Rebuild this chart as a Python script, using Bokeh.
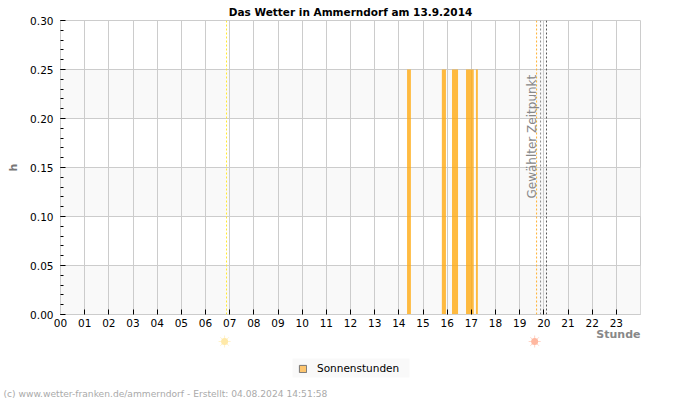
from bokeh.plotting import figure
from bokeh.layouts import column
from bokeh.models import Label, Legend, LegendItem, Span, FixedTicker, PrintfTickFormatter
from bokeh.core.properties import value
from bokeh.embed import file_html
from bokeh.resources import INLINE

title_text = "Das Wetter in Ammerndorf am 13.9.2014"
credit_text = "(c) www.wetter-franken.de/ammerndorf - Erstellt: 04.08.2024 14:51:58"
series_name = "Sonnenstunden"
hours = list(range(24))
hour_labels = {h: f"{h:02d}" for h in hours}
y_major = [0.0, 0.05, 0.10, 0.15, 0.20, 0.25, 0.30]
y_minor = [round(i * 0.01, 2) for i in range(31)]
band_low = [0.0, 0.10, 0.20]
band_high = [0.05, 0.15, 0.25]
bar_start = [14.34, 15.78, 16.2, 16.78, 17.19]
bar_end = [14.5, 15.95, 16.45, 17.1, 17.27]
bar_top = [0.25, 0.25, 0.25, 0.25, 0.25]
sunrise = 6.87
sunset = 19.70
selected_a = 19.865
selected_b = 20.11
sun_icon_x = [6.79, 19.62]
sun_colors = ["#ffe9a8", "#ffb8a0"]

GRID = "#cccccc"
p = figure(width=700, height=329, output_backend="svg", toolbar_location=None,
           x_range=(0, 24), y_range=(0, 0.30), title=title_text, frame_align=False,
           min_border_left=60, min_border_right=60, min_border_top=20, min_border_bottom=14,
           outline_line_color=GRID, outline_line_width=1, background_fill_color="white")
p.title.align = "center"
p.title.text_font = "DejaVu Sans"
p.title.text_font_size = "10.5px"
p.title.text_font_style = "bold"
p.title.text_color = "black"
p.title.standoff = 5
p.title.offset = -1

p.xaxis.ticker = FixedTicker(ticks=hours)
p.xaxis.major_label_overrides = hour_labels
p.yaxis.ticker = FixedTicker(ticks=y_major, minor_ticks=y_minor)
p.yaxis.formatter = PrintfTickFormatter(format="%.2f")
for ax in (p.xaxis[0], p.yaxis[0]):
    ax.axis_line_color = GRID
    ax.major_tick_line_color = "black"
    ax.major_tick_in = 5
    ax.major_tick_out = 0
    ax.major_label_text_font = "DejaVu Sans"
    ax.major_label_text_font_size = "10.5px"
    ax.major_label_text_color = "black"
p.xaxis.minor_tick_line_color = None
p.xaxis.major_label_standoff = 4
p.yaxis.minor_tick_line_color = "black"
p.yaxis.minor_tick_in = 3
p.yaxis.minor_tick_out = 0
p.yaxis.major_label_standoff = 7
p.yaxis.axis_label = "h"
p.yaxis.axis_label_text_font = "DejaVu Sans"
p.yaxis.axis_label_text_font_size = "11px"
p.yaxis.axis_label_text_font_style = "bold"
p.yaxis.axis_label_text_color = "#777777"
p.yaxis.axis_label_standoff = 7

p.xgrid.ticker = FixedTicker(ticks=hours)
p.ygrid.ticker = FixedTicker(ticks=y_major)
p.xgrid.grid_line_color = GRID
p.ygrid.grid_line_color = GRID

p.quad(left=[0, 0, 0], right=[24, 24, 24], bottom=band_low, top=band_high,
       fill_color="#f9f9f9", line_color=None, level="image")
p.quad(left=bar_start, right=bar_end, bottom=[0] * len(bar_top), top=bar_top,
       fill_color="#ffaa11", fill_alpha=0.8, line_color=None)

p.add_layout(Span(location=sunrise, dimension="height", line_color="#ffe930", line_dash="2 2", line_width=1))
p.add_layout(Span(location=sunset, dimension="height", line_color="#ffb030", line_dash="2 2", line_width=1))
p.add_layout(Span(location=selected_a, dimension="height", line_color="#888888", line_dash="2 2", line_width=1))
p.add_layout(Span(location=selected_b, dimension="height", line_color="#555555", line_dash="2 2", line_width=1))
p.add_layout(Label(text="Gewählter Zeitpunkt", x=19.5, y=0.1815, text_align="center", text_baseline="middle",
                   text_font="DejaVu Sans", text_font_size="12px", text_color="#888888", angle=1.5708))

# lower strip: same hour scale, y in pixels below its top
hour_px = 580 / 24
q = figure(width=700, height=71, output_backend="svg", toolbar_location=None,
           x_range=(-60 / hour_px, 24 + 60 / hour_px), y_range=(71, 0), frame_align=False,
           x_axis_type=None, y_axis_type=None, min_border=0, outline_line_color=None)
q.grid.visible = False
q.text(x=[24], y=[5], text=["Stunde"], text_align="right", text_baseline="middle",
       text_font=value("DejaVu Sans"), text_font_size="11px", text_font_style="bold", text_color="#888888")
q.text(x=[-57 / hour_px], y=[64], text=[credit_text], text_align="left", text_baseline="middle",
       text_font=value("DejaVu Sans"), text_font_size="9.15px", text_color="#aaaaaa")
q.scatter(x=sun_icon_x, y=[12, 12], marker="circle", size=7, fill_color=sun_colors, line_color=None)
q.scatter(x=sun_icon_x, y=[12, 12], marker="asterisk", size=12, line_color=sun_colors, line_width=1, line_alpha=0.6)

# legend backdrop, then the legend itself; the swatch's source quad lies above the strip's visible range
q.quad(left=[232 / hour_px], right=[349 / hour_px], top=[29], bottom=[48], fill_color="#f9f9f9", line_color=None)
swatch = q.quad(left=bar_start, right=bar_end, bottom=[-20] * len(bar_top), top=[-10] * len(bar_top),
                fill_color="#fdc56e", line_color="#777777")
legend = Legend(items=[LegendItem(label=series_name, renderers=[swatch])],
                location=(298, 26), orientation="horizontal",
                background_fill_alpha=0, border_line_color=None,
                glyph_width=9, glyph_height=9, label_text_font="DejaVu Sans", label_text_font_size="10.5px",
                label_text_color="black", margin=0, padding=5, label_standoff=10, label_height=9)
q.add_layout(legend, "center")

open("out.html", "w").write(file_html(column(p, q, spacing=0), INLINE))
